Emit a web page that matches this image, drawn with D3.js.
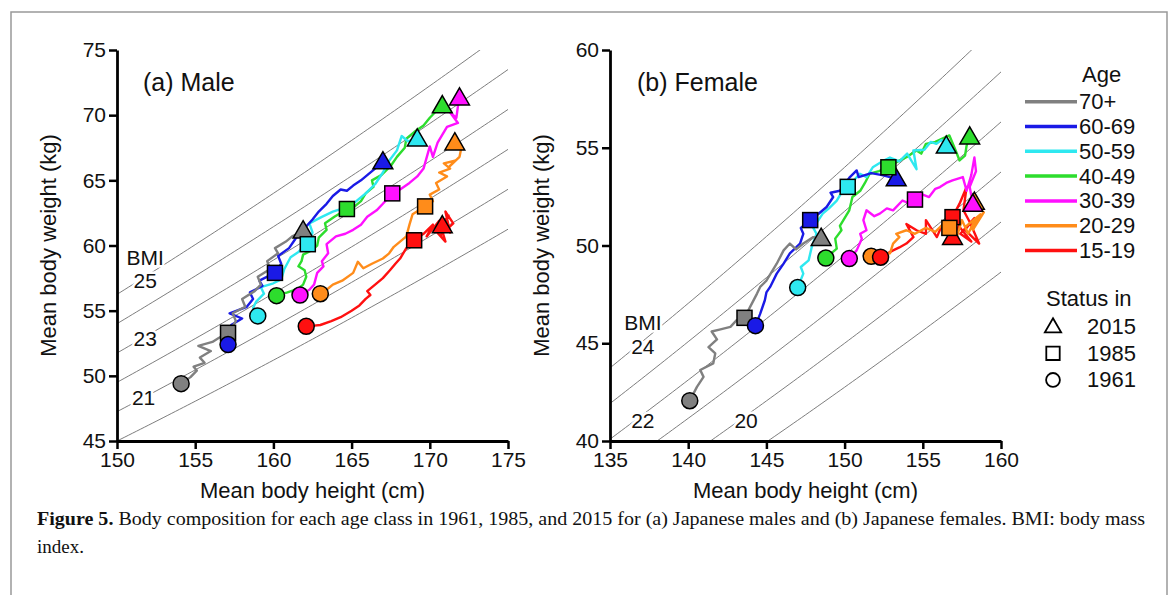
<!DOCTYPE html>
<html>
<head>
<meta charset="utf-8">
<script src="https://cdn.jsdelivr.net/npm/d3@7"></script>
<style>
  body { margin: 0; background: #fff; }
  svg text { font-family: "Liberation Sans", Arial, sans-serif; }
  svg text.caption { font-family: "Liberation Serif", "Times New Roman", serif; }
</style>
</head>
<body>
<div id="chart"></div>
<script>
const ageClasses = ["70+", "60-69", "50-59", "40-49", "30-39", "20-29", "15-19"];
const ageColors = ["#808080", "#1a1ae6", "#2ee8f0", "#2ddd2d", "#ff10ff", "#ff8c1a", "#ff1010"];
const statusYears = ["2015", "1985", "1961"];

const maleHeightTicks = [150, 155, 160, 165, 170, 175];
const maleWeightTicks = [45, 50, 55, 60, 65, 70, 75];
const femaleHeightTicks = [135, 140, 145, 150, 155, 160];
const femaleWeightTicks = [40, 45, 50, 55, 60];
const maleBmi = [20, 21, 22, 23, 24, 25];
const femaleBmi = [19, 20, 21, 22, 23, 24];

// yearly paths 1961 -> 2015, [height cm, weight kg]
const male70 = [[154.1,49.4],[154.7,49.9],[155.1,50.4],[154.9,50.7],[155.6,51.0],[155.3,51.4],[156.0,51.9],[155.2,52.3],[156.1,52.6],[156.5,52.9],[157.1,53.3],[157.6,54.2],[157.4,54.8],[158.2,55.3],[158.0,55.9],[158.8,56.5],[159.2,57.0],[159.0,57.6],[159.8,58.2],[159.6,58.8],[160.3,59.4],[160.1,59.8],[160.8,60.3],[161.2,60.7],[161.9,61.1]];
const male60 = [[157.1,52.4],[157.5,53.3],[157.3,53.9],[158.0,54.4],[157.2,54.8],[158.3,55.3],[158.7,55.9],[158.5,56.4],[159.3,56.9],[159.1,57.3],[160.1,57.9],[160.5,58.6],[160.3,59.2],[161.0,59.8],[161.4,60.5],[161.9,61.2],[162.5,62.0],[162.9,62.6],[163.4,63.2],[163.8,63.8],[164.3,64.3],[164.7,64.2],[165.1,64.6],[165.6,65.0],[166.0,65.4],[166.5,65.9],[167.0,66.4]];
const male50 = [[159.0,54.6],[158.7,55.2],[158.9,55.7],[159.4,56.3],[159.2,56.8],[160.0,57.1],[160.5,57.4],[160.7,58.2],[161.1,59.1],[161.6,59.5],[161.9,59.9],[162.2,60.1],[162.5,61.0],[162.3,61.7],[163.1,62.2],[163.8,62.6],[164.6,62.9],[165.3,63.4],[165.9,64.0],[166.5,64.7],[167.0,65.6],[167.4,66.5],[167.9,67.3],[168.2,68.4],[168.6,68.0],[169.2,68.15]];
const male40 = [[160.2,56.15],[160.9,56.4],[161.6,56.7],[161.9,57.0],[162.1,57.6],[162.0,58.1],[161.6,58.4],[161.8,58.8],[161.9,59.3],[162.4,59.6],[162.8,60.0],[162.9,60.6],[163.4,61.2],[163.3,61.7],[163.9,62.2],[164.3,62.5],[164.7,62.8],[165.2,63.0],[165.6,63.4],[165.9,64.0],[166.4,64.5],[166.3,65.0],[166.9,65.4],[167.5,66.1],[167.9,66.8],[168.4,67.5],[168.5,68.2],[169.0,68.7],[169.6,69.2],[170.0,69.8],[170.4,70.3],[170.8,70.7]];
const male30 = [[161.7,56.2],[162.3,56.6],[162.6,57.0],[162.8,57.9],[163.2,58.4],[163.1,58.8],[163.5,59.4],[163.4,60.1],[164.0,60.7],[164.6,60.9],[165.1,61.2],[165.6,61.6],[166.0,62.2],[166.6,62.7],[167.0,63.2],[167.6,64.0],[168.1,64.3],[168.7,64.8],[169.2,65.3],[169.6,65.9],[170.0,67.6],[170.2,66.8],[170.5,67.9],[171.1,69.1],[171.8,69.4],[171.3,70.2],[171.7,69.8],[171.8,70.7],[171.9,71.3]];
const male20 = [[163.0,56.3],[163.5,56.7],[163.8,57.0],[164.4,57.3],[165.1,57.9],[165.4,58.75],[165.75,58.25],[166.3,58.6],[167.0,59.0],[167.4,59.4],[167.7,59.9],[168.1,60.3],[168.5,60.7],[168.7,61.6],[168.9,62.4],[169.3,62.7],[169.7,63.0],[170.2,63.4],[170.0,63.9],[170.6,64.3],[170.4,64.8],[171.1,65.3],[170.6,65.6],[171.3,65.9],[170.9,66.3],[171.6,66.5],[171.2,66.0],[171.9,66.8],[172.0,67.4],[171.6,67.85]];
const male15 = [[162.1,53.8],[162.6,53.85],[163.0,53.9],[163.7,54.2],[164.3,54.5],[165.0,55.0],[165.5,55.4],[165.9,55.9],[166.2,56.2],[166.0,56.5],[166.6,57.1],[167.0,57.5],[167.45,58.1],[167.8,58.6],[168.1,59.0],[168.5,59.8],[169.0,60.4],[169.6,60.9],[170.2,61.6],[169.8,60.7],[170.6,61.9],[171.0,60.3],[170.4,61.1],[171.2,62.3],[170.7,60.8],[171.5,61.7],[171.0,62.6],[171.3,61.0],[170.8,61.5]];

const female70 = [[140.1,42.06],[140.56,42.77],[140.98,43.28],[140.77,43.63],[141.6,43.97],[141.73,44.48],[141.3,44.8],[141.84,45.2],[141.5,45.6],[142.0,45.7],[142.7,45.84],[143.1,46.18],[143.6,46.3],[143.96,46.86],[144.4,47.54],[144.6,47.88],[145.0,48.2],[145.3,48.6],[145.66,49.07],[146.1,49.75],[146.5,50.1],[146.9,49.8],[147.36,50.1],[148.0,50.43],[148.5,50.35]];
const female60 = [[144.3,45.9],[144.6,46.5],[144.9,47.2],[145.0,47.6],[145.24,47.88],[145.66,48.56],[146.1,49.07],[146.5,49.6],[146.9,49.9],[147.15,50.1],[147.36,50.6],[147.2,50.9],[147.8,51.3],[148.3,51.6],[148.85,51.97],[149.27,52.48],[149.1,52.7],[149.7,52.8],[150.34,53.5],[150.77,53.84],[150.9,53.5],[151.7,53.7],[152.4,53.6],[152.9,53.5],[153.3,53.4]];
const female50 = [[147.0,47.85],[147.36,48.56],[147.2,48.9],[147.7,49.24],[147.9,49.92],[148.2,50.6],[148.0,50.9],[148.6,51.63],[149.0,51.9],[149.5,52.3],[149.8,52.7],[150.2,53.0],[150.98,53.67],[151.4,53.5],[151.8,54.0],[152.4,54.3],[152.9,54.5],[153.5,54.3],[154.0,54.7],[154.6,53.9],[154.4,54.86],[155.1,54.9],[155.5,55.3],[155.87,55.2],[156.2,55.4],[156.5,55.07]];
const female40 = [[148.8,49.36],[149.5,49.84],[149.4,50.35],[149.8,50.78],[149.7,51.0],[150.3,51.8],[150.5,52.48],[151.0,52.8],[151.3,53.2],[151.6,53.67],[152.2,53.8],[152.8,54.0],[153.4,54.3],[153.95,54.52],[154.6,54.86],[154.9,54.7],[155.2,55.2],[155.8,55.3],[156.7,55.63],[157.1,54.86],[157.35,54.35],[157.7,54.6],[157.8,55.1],[158.0,55.54]];
const female30 = [[150.3,49.33],[150.77,49.75],[151.1,50.35],[151.0,50.6],[151.4,50.78],[151.2,51.3],[151.4,51.8],[151.9,51.5],[152.25,51.63],[152.7,51.9],[153.1,51.8],[153.7,52.3],[154.0,52.2],[154.5,52.35],[155.0,52.6],[155.4,52.48],[155.8,52.9],[156.1,52.99],[156.5,53.2],[156.9,53.33],[157.56,53.5],[157.8,52.8],[158.1,53.6],[158.3,54.5],[158.4,53.8],[158.0,53.0],[158.2,52.1]];
const female20 = [[151.7,49.45],[152.3,49.5],[152.9,49.6],[153.1,50.1],[153.5,50.43],[153.3,50.6],[153.95,50.78],[154.5,50.6],[155.2,50.9],[155.8,50.7],[156.3,51.1],[156.7,50.9],[157.2,50.5],[157.5,51.3],[157.9,50.6],[158.4,51.4],[157.8,51.0],[158.7,51.6],[158.2,50.8],[158.9,51.7],[158.5,51.9],[158.3,52.2]];
const female15 = [[152.3,49.4],[153.1,49.75],[153.5,49.9],[153.95,50.1],[154.4,50.43],[153.95,51.1],[154.6,50.78],[155.2,50.6],[155.2,51.3],[155.9,50.43],[156.2,51.0],[156.6,51.3],[156.9,51.45],[157.35,52.14],[157.8,52.99],[157.6,51.8],[158.0,51.2],[158.6,50.1],[157.7,50.8],[158.3,51.4],[157.4,50.6],[158.1,50.2],[157.3,51.0],[156.9,50.4]];

// 1985 status (squares), same order as ageClasses
const male1985 = [[157.1,53.3],[160.1,57.9],[162.2,60.1],[164.7,62.8],[167.6,64.0],[169.7,63.0],[169.0,60.4]];
const female1985 = [[143.6,46.3],[147.8,51.3],[150.2,53.0],[152.8,54.0],[154.5,52.35],[156.7,50.9],[156.9,51.45]];

const W = 1173, H = 595;
const svg = d3.select("#chart").append("svg").attr("width", W).attr("height", H);

svg.append("rect")
  .attr("x", 11).attr("y", 12).attr("width", 1156).attr("height", 640)
  .attr("fill", "none").attr("stroke", "#999").attr("stroke-width", 1.5);

const panels = [
  {id: "m", title: "(a) Male", left: 117, xDomain: [150, 175], yDomain: [45, 75],
   xTicks: maleHeightTicks, yTicks: maleWeightTicks, bmi: maleBmi,
   series: [male70, male60, male50, male40, male30, male20, male15], mid: male1985,
   titleX: 143, yTitleX: 48,
   labels: [["BMI", 151.8, 59.05], ["25", 151.8, 57.35], ["23", 151.8, 52.9], ["21", 151.7, 48.3]]},
  {id: "f", title: "(b) Female", left: 610, xDomain: [135, 160], yDomain: [40, 60],
   xTicks: femaleHeightTicks, yTicks: femaleWeightTicks, bmi: femaleBmi,
   series: [female70, female60, female50, female40, female30, female20, female15], mid: female1985,
   titleX: 637, yTitleX: 541,
   labels: [["BMI", 137.1, 46.08], ["24", 137.1, 44.85], ["22", 137.1, 41.07], ["20", 143.7, 41.07]]}
];

const plotW = 391, plotTop = 50, plotBottom = 441;

panels.forEach(p => {
  const x = d3.scaleLinear().domain(p.xDomain).range([p.left, p.left + plotW]);
  const y = d3.scaleLinear().domain(p.yDomain).range([plotBottom, plotTop]);
  const line = d3.line().x(d => x(d[0])).y(d => y(d[1]));
  const g = svg.append("g");

  const clipId = "clip-" + p.id;
  svg.append("clipPath").attr("id", clipId).append("rect")
    .attr("x", p.left).attr("y", plotTop).attr("width", plotW).attr("height", plotBottom - plotTop);

  // BMI reference curves
  p.bmi.forEach(b => {
    const pts = d3.range(p.xDomain[0], p.xDomain[1] + 0.001, 0.25).map(h => [h, b * (h / 100) * (h / 100)]);
    g.append("path").attr("d", line(pts)).attr("clip-path", `url(#${clipId})`)
      .attr("fill", "none").attr("stroke", "#6e6e6e").attr("stroke-width", 0.9);
  });

  p.labels.forEach(l => {
    g.append("text").attr("x", x(l[1])).attr("y", y(l[2]))
      .attr("text-anchor", "middle").attr("dominant-baseline", "central")
      .attr("font-size", 21).attr("fill", "#111")
      .attr("stroke", "#fff").attr("stroke-width", 5).attr("paint-order", "stroke")
      .text(l[0]);
  });

  // trajectories
  const order = d3.range(p.series.length).reverse();
  order.forEach(i => {
    g.append("path").attr("d", line(p.series[i]))
      .attr("fill", "none").attr("stroke", ageColors[i])
      .attr("stroke-width", 2.4).attr("stroke-linejoin", "round");
  });

  const tri = d3.symbol(d3.symbolTriangle, 170);
  order.forEach(i => {
    const e = p.series[i][p.series[i].length - 1];
    g.append("path").attr("d", tri())
      .attr("transform", `translate(${x(e[0])},${y(e[1]) + 1})`)
      .attr("fill", ageColors[i]).attr("stroke", "#000").attr("stroke-width", 1.5);
  });
  order.forEach(i => {
    const m = p.mid[i];
    g.append("rect").attr("x", x(m[0]) - 7.5).attr("y", y(m[1]) - 7.5)
      .attr("width", 15).attr("height", 15)
      .attr("fill", ageColors[i]).attr("stroke", "#000").attr("stroke-width", 1.5);
  });
  p.series.forEach((s, i) => {
    g.append("circle").attr("cx", x(s[0][0])).attr("cy", y(s[0][1])).attr("r", 8)
      .attr("fill", ageColors[i]).attr("stroke", "#000").attr("stroke-width", 1.5);
  });

  // axes
  const yAxis = g.append("g").attr("transform", `translate(${p.left},0)`)
    .call(d3.axisLeft(y).tickValues(p.yTicks).tickSize(8).tickSizeOuter(0).tickPadding(3));
  const xAxis = g.append("g").attr("transform", `translate(0,${plotBottom})`)
    .call(d3.axisBottom(x).tickValues(p.xTicks).tickSize(8).tickSizeOuter(0).tickPadding(3));
  [yAxis, xAxis].forEach(a => {
    a.select(".domain").attr("stroke", "#000").attr("stroke-width", 2.8);
    a.selectAll(".tick line").attr("stroke", "#000").attr("stroke-width", 2.5);
    a.selectAll(".tick text").attr("font-size", 21).attr("fill", "#111")
      .attr("font-family", '"Liberation Sans", Arial, sans-serif');
  });

  g.append("text").attr("x", p.left + plotW / 2).attr("y", 498)
    .attr("text-anchor", "middle").attr("font-size", 22).attr("fill", "#111")
    .text("Mean body height (cm)");
  g.append("text").attr("transform", `translate(${p.yTitleX + 8},${(plotTop + plotBottom) / 2}) rotate(-90)`)
    .attr("text-anchor", "middle").attr("font-size", 22).attr("fill", "#111")
    .text("Mean body weight (kg)");
  g.append("text").attr("x", p.titleX).attr("y", 91)
    .attr("font-size", 25).attr("fill", "#111").text(p.title);
});

// legend
const lg = svg.append("g");
lg.append("text").attr("x", 1082).attr("y", 82).attr("font-size", 22).attr("fill", "#111").text("Age");
ageClasses.forEach((a, i) => {
  const yy = 101.7 + i * 24.8;
  lg.append("line").attr("x1", 1025).attr("x2", 1077).attr("y1", yy).attr("y2", yy)
    .attr("stroke", ageColors[i]).attr("stroke-width", 3.5);
  lg.append("text").attr("x", 1079).attr("y", yy).attr("dominant-baseline", "central")
    .attr("font-size", 22).attr("fill", "#111").text(a);
});
lg.append("text").attr("x", 1046).attr("y", 306).attr("font-size", 22).attr("fill", "#111").text("Status in");
const symbolTypes = [d3.symbolTriangle, d3.symbolSquare, d3.symbolCircle];
const symbolSizes = [115, 180, 150];
statusYears.forEach((yr, i) => {
  const yy = 326.7 + i * 26.6;
  lg.append("path").attr("d", d3.symbol(symbolTypes[i], symbolSizes[i])())
    .attr("transform", `translate(1053,${yy + (i === 0 ? 1 : 0)})`)
    .attr("fill", "#fff").attr("stroke", "#000").attr("stroke-width", 1.8);
  lg.append("text").attr("x", 1087).attr("y", yy).attr("dominant-baseline", "central")
    .attr("font-size", 22).attr("fill", "#111").text(yr);
});

// caption
const cap = svg.append("text").attr("class", "caption").attr("x", 37).attr("y", 525)
  .attr("font-size", 19).attr("fill", "#111")
  .attr("textLength", 1108).attr("lengthAdjust", "spacingAndGlyphs");
cap.append("tspan").attr("font-weight", "bold").text("Figure 5.");
cap.append("tspan").text(" Body composition for each age class in 1961, 1985, and 2015 for (a) Japanese males and (b) Japanese females. BMI: body mass");
svg.append("text").attr("class", "caption").attr("x", 37).attr("y", 553)
  .attr("font-size", 19).attr("fill", "#111").text("index.");
</script>
</body>
</html>
